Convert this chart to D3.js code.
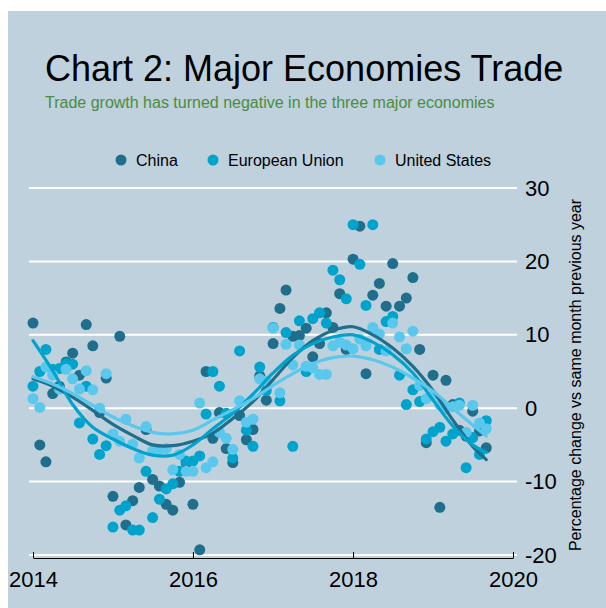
<!DOCTYPE html>
<html>
<head>
<meta charset="utf-8">
<title>Chart 2: Major Economies Trade</title>
<script src="https://d3js.org/d3.v7.min.js"></script>
<style>
  body { margin: 0; background: #fff; }
  svg { display: block; font-family: "Liberation Sans", Arial, sans-serif; }
</style>
</head>
<body>
<svg id="chart" width="606" height="608"></svg>
<script>
// monthly values, Jan 2014 .. Sep 2019 (% change vs same month previous year)
const firstMonth = "2014-01";
const lastMonth = "2019-09";

const china = [
  11.6, -5.0, -7.3, 2.0, 3.0, 6.3, 7.5, 4.5, 11.4, 8.5, -0.6, 4.1,
  -12.0, 9.8, -15.9, -12.6, -10.8, -2.9, -9.7, -10.6, -13.1, -13.9, -10.1, -7.4,
  -13.1, -19.3, 5.0, -4.1, -0.6, -5.5, -7.4, -1.0, -4.3, -2.9, 4.4, 1.1,
  8.8, 13.6, 16.1, 9.8, 9.9, 10.9, 7.0, 8.8, 13.0, 11.0, 15.6, 8.0,
  20.3, 24.8, 4.7, 15.4, 17.0, 13.9, 19.7, 13.9, 15.0, 17.8, 8.0, -4.7,
  4.5, -13.5, 3.8, 0.5, -3.0, -3.8, -0.4, -3.1, -5.4
];
const eu = [
  3.0, 5.0, 8.0, 5.3, 5.4, 6.1, 6.0, -2.0, 3.0, -4.2, -6.3, -5.1,
  -16.2, -13.9, -13.3, -16.6, -16.6, -8.6, -14.9, -12.4, -11.0, -10.3, -8.6, -7.2,
  -7.2, -6.5, -0.8, 5.0, 3.0, -0.7, -6.8, 7.8, -3.0, -5.2, 5.6, 2.4,
  11.0, 1.0, 10.3, -5.2, 11.9, 5.0, 12.2, 13.0, 11.6, 18.8, 17.5, 14.9,
  25.0, 19.6, 14.0, 25.0, 8.0, 11.8, 12.5, 4.5, 0.5, 2.5, 0.9, -4.2,
  -3.2, -2.6, -4.5, -3.5, 0.7, -8.1, -4.0, -6.3, -1.7
];
const us = [
  1.3, 0.1, 5.6, 4.5, 2.6, 5.3, 4.0, 2.6, 5.1, 2.5, 0.0, 4.7,
  -3.5, -4.5, -1.5, -4.9, -6.8, -2.5, -5.8, -5.6, -5.5, -8.4, -6.3, -8.6,
  -8.6, 0.7, -8.1, -7.3, -3.3, -4.1, -5.6, 1.0, -1.9, -1.5, 4.0, 3.7,
  10.9, 2.1, 8.7, 5.9, 8.6, 5.7, 5.5, 4.6, 4.6, 8.5, 9.0, 8.6,
  8.1, 9.4, 8.5, 11.0, 10.1, 7.8, 11.6, 9.7, 8.1, 10.5, 3.1, 1.3,
  1.7, 0.5, -0.1, 0.2, 0.4, -3.3, 0.4, -2.0, -2.8
];

// smoothed trend lines
const trendMonths = [
  "2014-01", "2014-04", "2014-07", "2014-10", "2015-01", "2015-04", "2015-07", "2015-10",
  "2016-01", "2016-04", "2016-07", "2016-10", "2017-01", "2017-04", "2017-07", "2017-10",
  "2018-01", "2018-04", "2018-07", "2018-10", "2019-01", "2019-04", "2019-07", "2019-09"
];
const chinaTrend = [4.0, 3.0, 1.5, -0.3, -2.2, -3.7, -5.0, -5.1, -4.5, -3.4, -1.4, 0.9,
  3.9, 6.9, 9.2, 10.6, 11.1, 10.0, 8.2, 5.7, 2.4, -1.6, -5.2, -7.0];
const euTrend = [9.2, 5.1, 0.5, -2.6, -4.2, -5.5, -6.4, -6.4, -5.0, -2.8, -0.7, 1.9,
  4.8, 7.2, 8.8, 9.7, 10.0, 9.0, 7.3, 4.8, 1.1, -2.4, -5.0, -6.0];
const usTrend = [4.3, 3.3, 2.0, 0.4, -1.2, -2.4, -3.3, -3.5, -3.0, -1.6, -0.2, 1.3,
  3.1, 4.7, 6.1, 6.9, 7.1, 6.6, 5.6, 4.1, 2.3, 0.0, -2.3, -3.8];

const seriesNames = ["China", "European Union", "United States"];
const seriesColors = ["#1f6e8b", "#00a3cc", "#5ac8ec"];
const yTicks = [-20, -10, 0, 10, 20, 30];
const xTicks = ["2014", "2016", "2018", "2020"];

const parseMonth = d3.timeParse("%Y-%m");
const parseYear = d3.timeParse("%Y");
const months = d3.timeMonths(parseMonth(firstMonth), d3.timeMonth.offset(parseMonth(lastMonth), 1));
const trendDates = trendMonths.map(parseMonth);

const svg = d3.select("#chart");

// panel background
svg.append("rect")
  .attr("x", 8).attr("y", 11)
  .attr("width", 598).attr("height", 597)
  .attr("fill", "#bed1dc");

const x = d3.scaleTime()
  .domain([parseYear("2014"), parseYear("2020")])
  .range([33, 513]);
const y = d3.scaleLinear()
  .domain([-20, 30])
  .range([555, 188]);

// title + subtitle
svg.append("text")
  .attr("x", 45).attr("y", 81)
  .attr("font-size", 36)
  .attr("fill", "#000")
  .text("Chart 2: Major Economies Trade");
svg.append("text")
  .attr("x", 45).attr("y", 108)
  .attr("font-size", 16)
  .attr("fill", "#4b8c40")
  .text("Trade growth has turned negative in the three major economies");

// legend
const legendX = [121, 213, 380];
const legend = svg.append("g");
seriesNames.forEach((name, i) => {
  legend.append("circle")
    .attr("cx", legendX[i]).attr("cy", 160).attr("r", 5.5)
    .attr("fill", seriesColors[i]);
  legend.append("text")
    .attr("x", legendX[i] + 15).attr("y", 166)
    .attr("font-size", 16)
    .text(name);
});

// gridlines
svg.append("g")
  .selectAll("line")
  .data(yTicks)
  .join("line")
  .attr("x1", 29).attr("x2", 517)
  .attr("y1", d => y(d)).attr("y2", d => y(d))
  .attr("stroke", "#fff")
  .attr("stroke-width", 2);

// y axis on the right
const yAxis = svg.append("g")
  .attr("transform", "translate(517,0)")
  .call(d3.axisRight(y).tickValues(yTicks).tickSize(0).tickPadding(8).tickFormat(d => String(d)));
yAxis.select(".domain").remove();
yAxis.selectAll("text")
  .attr("font-size", 22)
  .attr("font-family", "'Liberation Sans', Arial, sans-serif")
  .attr("fill", "#000");

svg.append("text")
  .attr("transform", "translate(581,375) rotate(-90)")
  .attr("text-anchor", "middle")
  .attr("font-size", 16)
  .text("Percentage change vs same month previous year");

// x axis
const xAxis = svg.append("g")
  .attr("transform", "translate(0,558)")
  .call(d3.axisBottom(x)
    .tickValues(xTicks.map(parseYear))
    .tickSizeInner(-6).tickSizeOuter(0).tickPadding(13)
    .tickFormat(d3.timeFormat("%Y")));
xAxis.select(".domain").attr("stroke", "#000");
xAxis.selectAll(".tick line").attr("stroke", "#000");
xAxis.selectAll("text")
  .attr("font-size", 22)
  .attr("font-family", "'Liberation Sans', Arial, sans-serif")
  .attr("fill", "#000");

// points
const allValues = [china, eu, us];
allValues.forEach((vals, i) => {
  svg.append("g")
    .selectAll("circle")
    .data(vals)
    .join("circle")
    .attr("cx", (d, j) => x(months[j]))
    .attr("cy", d => y(d))
    .attr("r", 5.5)
    .attr("fill", seriesColors[i]);
});

// trend lines
const line = d3.line()
  .x((d, j) => x(trendDates[j]))
  .y(d => y(d))
  .curve(d3.curveCatmullRom);
[chinaTrend, euTrend, usTrend].forEach((vals, i) => {
  svg.append("path")
    .datum(vals)
    .attr("d", line)
    .attr("fill", "none")
    .attr("stroke", seriesColors[i])
    .attr("stroke-width", 3.2)
    .attr("stroke-linecap", "round");
});
</script>
</body>
</html>
